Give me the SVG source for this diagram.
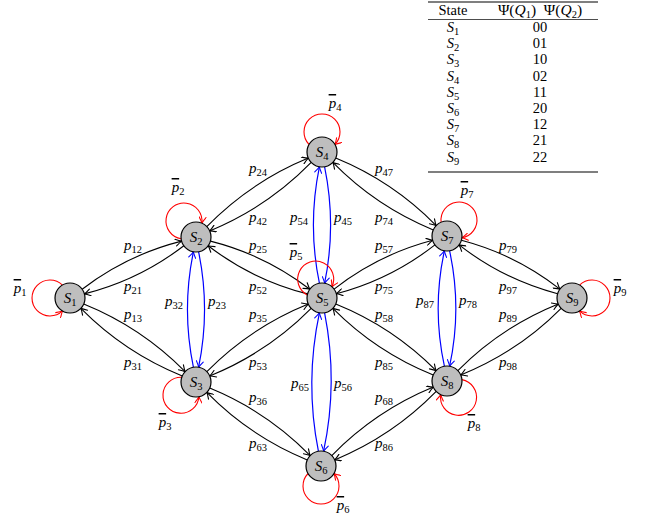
<svg xmlns="http://www.w3.org/2000/svg" width="646" height="514" viewBox="0 0 646 514">
<style>
text { font-family: "Liberation Serif", "DejaVu Serif", serif; fill: #000; }
.edge { fill: none; stroke: #000; stroke-width: 1.1; marker-end: url(#ab); }
.blue { fill: none; stroke: #0000ff; stroke-width: 1.2; marker-end: url(#au); }
.loop { fill: none; stroke: #ff0000; stroke-width: 1.1; marker-end: url(#ar); }
.nd { fill: #bebebe; stroke: #000; stroke-width: 1.2; }
.nl { font-size: 15px; text-anchor: middle; }
.lab { font-size: 15px; text-anchor: middle; }
.i { font-style: italic; }
.sub { font-size: 10.5px; }
.ob { text-decoration: overline; }
.tb { font-size: 14.5px; }
.th { font-size: 15.5px; }
.rule { stroke: #000; }
</style>
<defs>
<marker id="ab" viewBox="-7 -4 8 8" markerWidth="8" markerHeight="8" refX="0" refY="0" orient="auto" markerUnits="userSpaceOnUse"><path d="M-6,-3.5 Q-2,-0.8 0,0 Q-2,0.8 -6,3.5" fill="none" stroke="#000" stroke-width="1.1" stroke-linecap="round"/></marker>
<marker id="au" viewBox="-7 -4 8 8" markerWidth="8" markerHeight="8" refX="0" refY="0" orient="auto" markerUnits="userSpaceOnUse"><path d="M-6,-3.5 Q-2,-0.8 0,0 Q-2,0.8 -6,3.5" fill="none" stroke="#0000ff" stroke-width="1.1" stroke-linecap="round"/></marker>
<marker id="ar" viewBox="-7 -4 8 8" markerWidth="8" markerHeight="8" refX="0" refY="0" orient="auto" markerUnits="userSpaceOnUse"><path d="M-6,-3.5 Q-2,-0.8 0,0 Q-2,0.8 -6,3.5" fill="none" stroke="#ff0000" stroke-width="1.1" stroke-linecap="round"/></marker>
</defs>

<g id="table">
<line class="rule" x1="428" y1="2" x2="598" y2="2" stroke-width="1.2"/>
<text class="tb" x="453" y="15" text-anchor="middle">State</text>
<text class="th" x="540" y="15" text-anchor="middle">Ψ(<tspan class="i">Q</tspan><tspan class="sub" dy="3">1</tspan><tspan dy="-3">)&#160;&#160;Ψ(</tspan><tspan class="i">Q</tspan><tspan class="sub" dy="3">2</tspan><tspan dy="-3">)</tspan></text>
<line class="rule" x1="428" y1="19.5" x2="598" y2="19.5" stroke-width="0.7"/>
<text class="tb" x="453" y="32" text-anchor="middle"><tspan class="i">S</tspan><tspan class="sub" dy="3">1</tspan></text><text class="tb" x="540" y="32" text-anchor="middle">00</text>
<text class="tb" x="453" y="48.2" text-anchor="middle"><tspan class="i">S</tspan><tspan class="sub" dy="3">2</tspan></text><text class="tb" x="540" y="48.2" text-anchor="middle">01</text>
<text class="tb" x="453" y="64.4" text-anchor="middle"><tspan class="i">S</tspan><tspan class="sub" dy="3">3</tspan></text><text class="tb" x="540" y="64.4" text-anchor="middle">10</text>
<text class="tb" x="453" y="80.6" text-anchor="middle"><tspan class="i">S</tspan><tspan class="sub" dy="3">4</tspan></text><text class="tb" x="540" y="80.6" text-anchor="middle">02</text>
<text class="tb" x="453" y="96.8" text-anchor="middle"><tspan class="i">S</tspan><tspan class="sub" dy="3">5</tspan></text><text class="tb" x="540" y="96.8" text-anchor="middle">11</text>
<text class="tb" x="453" y="113" text-anchor="middle"><tspan class="i">S</tspan><tspan class="sub" dy="3">6</tspan></text><text class="tb" x="540" y="113" text-anchor="middle">20</text>
<text class="tb" x="453" y="129.2" text-anchor="middle"><tspan class="i">S</tspan><tspan class="sub" dy="3">7</tspan></text><text class="tb" x="540" y="129.2" text-anchor="middle">12</text>
<text class="tb" x="453" y="145.4" text-anchor="middle"><tspan class="i">S</tspan><tspan class="sub" dy="3">8</tspan></text><text class="tb" x="540" y="145.4" text-anchor="middle">21</text>
<text class="tb" x="453" y="161.6" text-anchor="middle"><tspan class="i">S</tspan><tspan class="sub" dy="3">9</tspan></text><text class="tb" x="540" y="161.6" text-anchor="middle">22</text>
<line class="rule" x1="428" y1="172" x2="598" y2="172" stroke-width="1.2"/>
</g>

<g id="connectors">
<path class="edge" d="M82.16,289.22 Q126.9,254.9 181.58,241.1"/>
<path class="edge" d="M183.84,245.78 Q139.1,280.1 84.42,293.9"/>
<path class="edge" d="M83.73,304.04 Q141.4,327.4 185.15,371.64"/>
<path class="edge" d="M182.27,375.96 Q124.6,352.6 80.85,308.36"/>
<path class="edge" d="M206.79,226.58 Q250.5,181.9 308.31,158.1"/>
<path class="edge" d="M311.21,162.42 Q267.5,207.1 209.69,230.9"/>
<path class="edge" d="M210.42,241.1 Q265.1,254.9 309.84,289.22"/>
<path class="edge" d="M307.58,293.9 Q252.9,280.1 208.16,245.78"/>
<path class="edge" d="M206.85,371.64 Q250.6,327.4 308.27,304.04"/>
<path class="edge" d="M311.15,308.36 Q267.4,352.6 209.73,375.96"/>
<path class="edge" d="M209.71,388.08 Q266.9,411.5 310.19,455.6"/>
<path class="edge" d="M307.29,459.92 Q250.1,436.5 206.81,392.4"/>
<path class="edge" d="M335.71,158.08 Q392.9,181.5 436.19,225.6"/>
<path class="edge" d="M433.29,229.92 Q376.1,206.5 332.81,162.4"/>
<path class="edge" d="M334.08,289.11 Q378.3,254.5 432.62,240.23"/>
<path class="edge" d="M434.92,244.89 Q390.7,279.5 336.38,293.77"/>
<path class="edge" d="M335.74,304 Q392.8,327 436.14,370.66"/>
<path class="edge" d="M433.26,375 Q376.2,352 332.86,308.34"/>
<path class="edge" d="M331.79,455.58 Q375.5,410.9 433.31,387.1"/>
<path class="edge" d="M436.21,391.42 Q392.5,436.1 334.69,459.9"/>
<path class="edge" d="M461.38,240.23 Q515.7,254.5 559.92,289.11"/>
<path class="edge" d="M557.62,293.77 Q503.3,279.5 459.08,244.89"/>
<path class="edge" d="M457.86,370.66 Q501.2,327 558.26,304"/>
<path class="edge" d="M561.14,308.34 Q517.8,352 460.74,375"/>

<path class="blue" d="M198.6,251.77 Q210.5,309.5 198.6,367.23"/>
<path class="blue" d="M193.4,367.23 Q181.5,309.5 193.4,251.77"/>
<path class="blue" d="M324.6,166.77 Q336.6,225 324.6,283.23"/>
<path class="blue" d="M319.4,283.23 Q307.4,225 319.4,166.77"/>
<path class="blue" d="M324.6,312.77 Q338.3,382 323.6,451.23"/>
<path class="blue" d="M318.4,451.23 Q304.7,382 319.4,312.77"/>
<path class="blue" d="M449.6,250.77 Q462.1,308.5 449.6,366.23"/>
<path class="blue" d="M444.4,366.23 Q431.9,308.5 444.4,250.77"/>

<path class="loop" d="M62.5,285.04 A18,18 0 1 0 62.5,310.96"/>
<path class="loop" d="M181.13,238.81 A18,18 0 1 1 201.85,223.21"/>
<path class="loop" d="M181.82,377.23 A18,18 0 1 0 198.93,396.67"/>
<path class="loop" d="M309.04,144.5 A18,18 0 1 1 334.96,144.5"/>
<path class="loop" d="M307.33,294.98 A18,18 0 1 1 331.93,286.78"/>
<path class="loop" d="M308.04,473.5 A18,18 0 1 0 333.96,473.5"/>
<path class="loop" d="M441.13,222.22 A18,18 0 1 1 461.87,237.78"/>
<path class="loop" d="M461.91,379.64 A18,18 0 1 1 440.75,394.6"/>
<path class="loop" d="M579.5,285.04 A18,18 0 1 1 579.5,310.96"/>
</g>

<g id="edge-labels">
<text class="lab" x="133" y="250"><tspan class="i">p</tspan><tspan class="sub" dy="3">12</tspan></text>
<text class="lab" x="133" y="291"><tspan class="i">p</tspan><tspan class="sub" dy="3">21</tspan></text>
<text class="lab" x="133" y="319"><tspan class="i">p</tspan><tspan class="sub" dy="3">13</tspan></text>
<text class="lab" x="133" y="367"><tspan class="i">p</tspan><tspan class="sub" dy="3">31</tspan></text>
<text class="lab" x="258" y="173"><tspan class="i">p</tspan><tspan class="sub" dy="3">24</tspan></text>
<text class="lab" x="258" y="222"><tspan class="i">p</tspan><tspan class="sub" dy="3">42</tspan></text>
<text class="lab" x="258" y="250"><tspan class="i">p</tspan><tspan class="sub" dy="3">25</tspan></text>
<text class="lab" x="258" y="291"><tspan class="i">p</tspan><tspan class="sub" dy="3">52</tspan></text>
<text class="lab" x="258" y="319"><tspan class="i">p</tspan><tspan class="sub" dy="3">35</tspan></text>
<text class="lab" x="258" y="367"><tspan class="i">p</tspan><tspan class="sub" dy="3">53</tspan></text>
<text class="lab" x="258" y="402"><tspan class="i">p</tspan><tspan class="sub" dy="3">36</tspan></text>
<text class="lab" x="258" y="448"><tspan class="i">p</tspan><tspan class="sub" dy="3">63</tspan></text>
<text class="lab" x="384" y="173"><tspan class="i">p</tspan><tspan class="sub" dy="3">47</tspan></text>
<text class="lab" x="384" y="222"><tspan class="i">p</tspan><tspan class="sub" dy="3">74</tspan></text>
<text class="lab" x="384" y="250"><tspan class="i">p</tspan><tspan class="sub" dy="3">57</tspan></text>
<text class="lab" x="384" y="291"><tspan class="i">p</tspan><tspan class="sub" dy="3">75</tspan></text>
<text class="lab" x="384" y="319"><tspan class="i">p</tspan><tspan class="sub" dy="3">58</tspan></text>
<text class="lab" x="384" y="367"><tspan class="i">p</tspan><tspan class="sub" dy="3">85</tspan></text>
<text class="lab" x="384" y="402"><tspan class="i">p</tspan><tspan class="sub" dy="3">68</tspan></text>
<text class="lab" x="384" y="448"><tspan class="i">p</tspan><tspan class="sub" dy="3">86</tspan></text>
<text class="lab" x="508" y="250"><tspan class="i">p</tspan><tspan class="sub" dy="3">79</tspan></text>
<text class="lab" x="508" y="291"><tspan class="i">p</tspan><tspan class="sub" dy="3">97</tspan></text>
<text class="lab" x="508" y="319"><tspan class="i">p</tspan><tspan class="sub" dy="3">89</tspan></text>
<text class="lab" x="508" y="367"><tspan class="i">p</tspan><tspan class="sub" dy="3">98</tspan></text>
<text class="lab" x="174" y="306"><tspan class="i">p</tspan><tspan class="sub" dy="3">32</tspan></text>
<text class="lab" x="217" y="306"><tspan class="i">p</tspan><tspan class="sub" dy="3">23</tspan></text>
<text class="lab" x="299" y="222"><tspan class="i">p</tspan><tspan class="sub" dy="3">54</tspan></text>
<text class="lab" x="343" y="222"><tspan class="i">p</tspan><tspan class="sub" dy="3">45</tspan></text>
<text class="lab" x="300" y="388"><tspan class="i">p</tspan><tspan class="sub" dy="3">65</tspan></text>
<text class="lab" x="343" y="388"><tspan class="i">p</tspan><tspan class="sub" dy="3">56</tspan></text>
<text class="lab" x="425" y="305"><tspan class="i">p</tspan><tspan class="sub" dy="3">87</tspan></text>
<text class="lab" x="468" y="305"><tspan class="i">p</tspan><tspan class="sub" dy="3">78</tspan></text>
<text class="lab" x="20" y="293"><tspan class="i ob">p</tspan><tspan class="sub" dy="3">1</tspan></text>
<text class="lab" x="178" y="192"><tspan class="i ob">p</tspan><tspan class="sub" dy="3">2</tspan></text>
<text class="lab" x="165" y="427"><tspan class="i ob">p</tspan><tspan class="sub" dy="3">3</tspan></text>
<text class="lab" x="335" y="108"><tspan class="i ob">p</tspan><tspan class="sub" dy="3">4</tspan></text>
<text class="lab" x="296" y="257"><tspan class="i ob">p</tspan><tspan class="sub" dy="3">5</tspan></text>
<text class="lab" x="343" y="510"><tspan class="i ob">p</tspan><tspan class="sub" dy="3">6</tspan></text>
<text class="lab" x="467" y="195"><tspan class="i ob">p</tspan><tspan class="sub" dy="3">7</tspan></text>
<text class="lab" x="474" y="428"><tspan class="i ob">p</tspan><tspan class="sub" dy="3">8</tspan></text>
<text class="lab" x="620" y="293"><tspan class="i ob">p</tspan><tspan class="sub" dy="3">9</tspan></text>
</g>

<g id="S1"><circle class="nd" cx="70" cy="298" r="15"/><text class="nl" x="70" y="303"><tspan class="i">S</tspan><tspan class="sub" dy="3">1</tspan></text></g>
<g id="S2"><circle class="nd" cx="196" cy="237" r="15"/><text class="nl" x="196" y="242"><tspan class="i">S</tspan><tspan class="sub" dy="3">2</tspan></text></g>
<g id="S3"><circle class="nd" cx="196" cy="382" r="15"/><text class="nl" x="196" y="387"><tspan class="i">S</tspan><tspan class="sub" dy="3">3</tspan></text></g>
<g id="S4"><circle class="nd" cx="322" cy="152" r="15"/><text class="nl" x="322" y="157"><tspan class="i">S</tspan><tspan class="sub" dy="3">4</tspan></text></g>
<g id="S5"><circle class="nd" cx="322" cy="298" r="15"/><text class="nl" x="322" y="303"><tspan class="i">S</tspan><tspan class="sub" dy="3">5</tspan></text></g>
<g id="S6"><circle class="nd" cx="321" cy="466" r="15"/><text class="nl" x="321" y="471"><tspan class="i">S</tspan><tspan class="sub" dy="3">6</tspan></text></g>
<g id="S7"><circle class="nd" cx="447" cy="236" r="15"/><text class="nl" x="447" y="241"><tspan class="i">S</tspan><tspan class="sub" dy="3">7</tspan></text></g>
<g id="S8"><circle class="nd" cx="447" cy="381" r="15"/><text class="nl" x="447" y="386"><tspan class="i">S</tspan><tspan class="sub" dy="3">8</tspan></text></g>
<g id="S9"><circle class="nd" cx="572" cy="298" r="15"/><text class="nl" x="572" y="303"><tspan class="i">S</tspan><tspan class="sub" dy="3">9</tspan></text></g>
</svg>
